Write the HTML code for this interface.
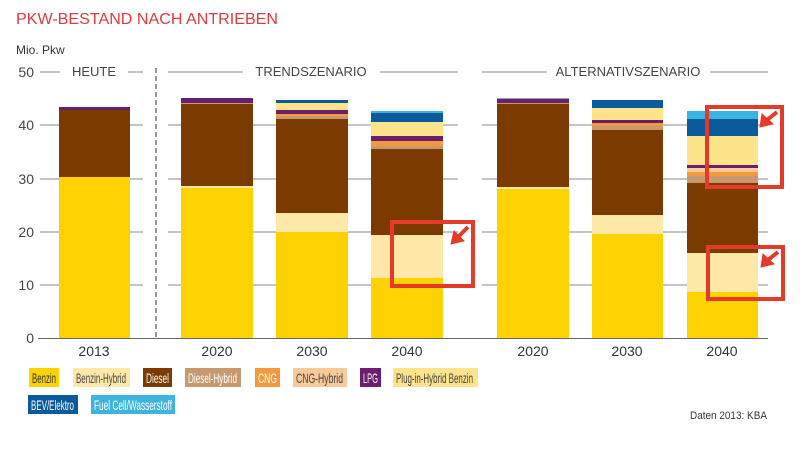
<!DOCTYPE html>
<html><head><meta charset="utf-8"><style>
body{margin:0;background:#fff;}
svg text{font-family:"Liberation Sans",sans-serif;}
</style></head><body>
<svg width="800" height="444" viewBox="0 0 800 444" xmlns="http://www.w3.org/2000/svg">
<text x="16" y="24" font-size="16" fill="#e03a3e" textLength="262" lengthAdjust="spacingAndGlyphs">PKW-BESTAND NACH ANTRIEBEN</text>
<text x="16" y="54" font-size="12" fill="#333">Mio. Pkw</text>
<g font-size="14" fill="#444" text-anchor="end">
<text x="34" y="77">50</text><text x="34" y="130">40</text><text x="34" y="184">30</text>
<text x="34" y="237">20</text><text x="34" y="290">10</text><text x="34" y="343">0</text>
</g>
<g stroke="#888" stroke-width="1">
<line x1="40" y1="72" x2="60" y2="72"/><line x1="128" y1="72" x2="143" y2="72"/>
<line x1="168" y1="72" x2="243" y2="72"/><line x1="380" y1="72" x2="458" y2="72"/>
<line x1="482" y1="72" x2="547" y2="72"/><line x1="710" y1="72" x2="768" y2="72"/>
<line x1="40" y1="125" x2="143" y2="125"/><line x1="168" y1="125" x2="458" y2="125"/><line x1="482" y1="125" x2="768" y2="125"/>
<line x1="40" y1="179" x2="143" y2="179"/><line x1="168" y1="179" x2="458" y2="179"/><line x1="482" y1="179" x2="768" y2="179"/>
<line x1="40" y1="232" x2="143" y2="232"/><line x1="168" y1="232" x2="458" y2="232"/><line x1="482" y1="232" x2="768" y2="232"/>
<line x1="40" y1="285" x2="143" y2="285"/><line x1="168" y1="285" x2="458" y2="285"/><line x1="482" y1="285" x2="768" y2="285"/>
</g>
<line x1="38" y1="338.5" x2="768" y2="338.5" stroke="#666"/>
<line x1="156" y1="68" x2="156" y2="338" stroke="#777" stroke-width="1.5" stroke-dasharray="5,3"/>
<g font-size="13" fill="#444" text-anchor="middle">
<text x="94" y="76">HEUTE</text><text x="311" y="76">TRENDSZENARIO</text><text x="628" y="76">ALTERNATIVSZENARIO</text>
</g>
<g>
<rect x="59" y="177" width="71" height="161" fill="#fcd200"/>
<rect x="59" y="110" width="71" height="67" fill="#7a3a00"/>
<rect x="59" y="107" width="71" height="3" fill="#6b1e6b"/>
</g>
<g>
<rect x="181" y="188" width="72" height="150" fill="#fcd200"/>
<rect x="181" y="186" width="72" height="2" fill="#fde8a8"/>
<rect x="181" y="104" width="72" height="82" fill="#7a3a00"/>
<rect x="181" y="103" width="72" height="1" fill="#c8996e"/>
<rect x="181" y="98" width="72" height="5" fill="#6b1e6b"/>
</g>
<g>
<rect x="276" y="232" width="72" height="106" fill="#fcd200"/>
<rect x="276" y="213" width="72" height="19" fill="#fde8a8"/>
<rect x="276" y="119" width="72" height="94" fill="#7a3a00"/>
<rect x="276" y="116" width="72" height="3" fill="#c8996e"/>
<rect x="276" y="114" width="72" height="2" fill="#f29a3c"/>
<rect x="276" y="110" width="72" height="4" fill="#6b1e6b"/>
<rect x="276" y="103" width="72" height="7" fill="#fde38a"/>
<rect x="276" y="100" width="72" height="3" fill="#0a5a9c"/>
</g>
<g>
<rect x="371" y="278" width="72" height="60" fill="#fcd200"/>
<rect x="371" y="235" width="72" height="43" fill="#fde8a8"/>
<rect x="371" y="149" width="72" height="86" fill="#7a3a00"/>
<rect x="371" y="146" width="72" height="3" fill="#c8996e"/>
<rect x="371" y="141" width="72" height="5" fill="#f29a3c"/>
<rect x="371" y="136" width="72" height="5" fill="#6b1e6b"/>
<rect x="371" y="122" width="72" height="14" fill="#fde38a"/>
<rect x="371" y="113" width="72" height="9" fill="#0a5a9c"/>
<rect x="371" y="111" width="72" height="2" fill="#3cb4e0"/>
</g>
<g>
<rect x="497" y="189" width="72" height="149" fill="#fcd200"/>
<rect x="497" y="187" width="72" height="2" fill="#fde8a8"/>
<rect x="497" y="104" width="72" height="83" fill="#7a3a00"/>
<rect x="497" y="103" width="72" height="1" fill="#c8996e"/>
<rect x="497" y="99" width="72" height="4" fill="#6b1e6b"/>
<rect x="497" y="98" width="72" height="1" fill="#8aa"/>
</g>
<g>
<rect x="592" y="234" width="71" height="104" fill="#fcd200"/>
<rect x="592" y="215" width="71" height="19" fill="#fde8a8"/>
<rect x="592" y="130" width="71" height="85" fill="#7a3a00"/>
<rect x="592" y="126" width="71" height="4" fill="#c8996e"/>
<rect x="592" y="123" width="71" height="3" fill="#f29a3c"/>
<rect x="592" y="120" width="71" height="3" fill="#6b1e6b"/>
<rect x="592" y="108" width="71" height="12" fill="#fde38a"/>
<rect x="592" y="100" width="71" height="8" fill="#0a5a9c"/>
</g>
<g>
<rect x="687" y="292" width="71" height="46" fill="#fcd200"/>
<rect x="687" y="253" width="71" height="39" fill="#fde8a8"/>
<rect x="687" y="183" width="71" height="70" fill="#7a3a00"/>
<rect x="687" y="176" width="71" height="7" fill="#c8996e"/>
<rect x="687" y="172" width="71" height="4" fill="#f29a3c"/>
<rect x="687" y="168" width="71" height="4" fill="#f8c99a"/>
<rect x="687" y="165" width="71" height="3" fill="#6b1e6b"/>
<rect x="687" y="136" width="71" height="29" fill="#fde38a"/>
<rect x="687" y="119" width="71" height="17" fill="#0a5a9c"/>
<rect x="687" y="111" width="71" height="8" fill="#3cb4e0"/>
</g>
<g fill="none" stroke="#e53a2a" stroke-width="4">
<rect x="392" y="222" width="81" height="64"/>
<rect x="707" y="107" width="75" height="80"/>
<rect x="708" y="247" width="75" height="52"/>
</g>
<g fill="#e53a2a" stroke="#e53a2a" stroke-width="4">
<line x1="468" y1="227" x2="458" y2="237"/><polygon points="451,244 454,231 464,241" stroke-width="1"/>
<line x1="777" y1="112" x2="767" y2="120"/><polygon points="760,127 762,114 773,124" stroke-width="1"/>
<line x1="778" y1="252" x2="768" y2="260"/><polygon points="761,267 763,254 774,264" stroke-width="1"/>
</g>
<g font-size="14" fill="#333" text-anchor="middle">
<text x="94" y="356">2013</text><text x="217" y="356">2020</text><text x="312" y="356">2030</text><text x="407" y="356">2040</text>
<text x="533" y="356">2020</text><text x="627" y="356">2030</text><text x="722" y="356">2040</text>
</g>
<g font-size="14">
<rect x="29" y="368" width="30" height="19" fill="#fcd200"/><text x="32" y="383" fill="#333" textLength="24" lengthAdjust="spacingAndGlyphs">Benzin</text>
<rect x="73" y="368" width="57" height="19" fill="#fde8a8"/><text x="76" y="383" fill="#444" textLength="50" lengthAdjust="spacingAndGlyphs">Benzin-Hybrid</text>
<rect x="143" y="368" width="29" height="19" fill="#7a3a00"/><text x="146" y="383" fill="#fff" textLength="23" lengthAdjust="spacingAndGlyphs">Diesel</text>
<rect x="185" y="368" width="56" height="19" fill="#c8996e"/><text x="188" y="383" fill="#fff" textLength="49" lengthAdjust="spacingAndGlyphs">Diesel-Hybrid</text>
<rect x="255" y="368" width="25" height="19" fill="#f29a3c"/><text x="258" y="383" fill="#fff" textLength="19" lengthAdjust="spacingAndGlyphs">CNG</text>
<rect x="293" y="368" width="54" height="19" fill="#f8c99a"/><text x="296" y="383" fill="#444" textLength="47" lengthAdjust="spacingAndGlyphs">CNG-Hybrid</text>
<rect x="360" y="368" width="21" height="19" fill="#6b1e6b"/><text x="363" y="383" fill="#fff" textLength="15" lengthAdjust="spacingAndGlyphs">LPG</text>
<rect x="393" y="368" width="85" height="19" fill="#fde38a"/><text x="396" y="383" fill="#444" textLength="77" lengthAdjust="spacingAndGlyphs">Plug-in-Hybrid Benzin</text>
<rect x="28" y="395" width="50" height="19" fill="#0a5a9c"/><text x="31" y="410" fill="#fff" textLength="43" lengthAdjust="spacingAndGlyphs">BEV/Elektro</text>
<rect x="91" y="395" width="84" height="19" fill="#3cb4e0"/><text x="94" y="410" fill="#fff" textLength="78" lengthAdjust="spacingAndGlyphs">Fuel Cell/Wasserstoff</text>
<text x="767" y="419" font-size="11" fill="#333" text-anchor="end" textLength="77" lengthAdjust="spacingAndGlyphs">Daten 2013: KBA</text>
</g>
</svg>
</body></html>
